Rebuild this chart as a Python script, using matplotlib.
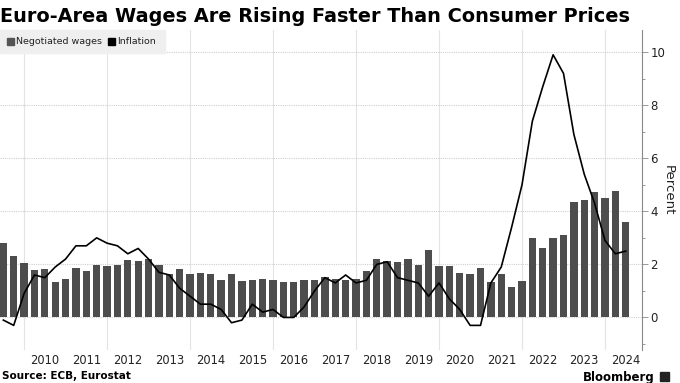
import matplotlib
matplotlib.use("Agg")
import matplotlib.pyplot as plt
import numpy as np

# quarterly data, 2009 Q2 .. 2024 Q2
start_year = 2009.5
wages = [2.79, 2.33, 2.06, 1.80, 1.82, 1.35, 1.46, 1.85, 1.76, 1.96, 1.94,
         1.96, 2.15, 2.13, 2.21, 1.99, 1.65, 1.82, 1.62, 1.66, 1.65, 1.42,
         1.62, 1.36, 1.40, 1.43, 1.42, 1.32, 1.33, 1.42, 1.41, 1.52, 1.43,
         1.42, 1.46, 1.74, 2.19, 2.11, 2.08, 2.20, 1.99, 2.53, 1.95, 1.94,
         1.67, 1.62, 1.86, 1.33, 1.64, 1.14, 1.36, 2.98, 2.62, 3.01, 3.09,
         4.36, 4.42, 4.74, 4.51, 4.76, 3.58]
inflation = [-0.1, -0.3, 0.9, 1.6, 1.5, 1.9, 2.2, 2.7, 2.7, 3.0, 2.8,
             2.7, 2.4, 2.6, 2.2, 1.7, 1.6, 1.1, 0.8, 0.5, 0.5, 0.3,
             -0.2, -0.1, 0.5, 0.2, 0.3, 0.0, 0.0, 0.4, 1.0, 1.5, 1.3,
             1.6, 1.3, 1.4, 2.0, 2.1, 1.5, 1.4, 1.3, 0.8, 1.3, 0.7,
             0.3, -0.3, -0.3, 1.3, 1.9, 3.4, 5.0, 7.4, 8.7, 9.9, 9.2,
             6.9, 5.4, 4.3, 2.9, 2.4, 2.5]
years = list(range(2010, 2025))
yticks = [0, 2, 4, 6, 8, 10]

plt.rcParams['font.family'] = ['DejaVu Sans']

x = start_year + 0.25 * np.arange(len(wages))

fig = plt.figure(figsize=(6.8, 3.83), dpi=100)
ax = fig.add_axes([0.0, 0.086, 0.944, 0.836])

ax.bar(x, wages, width=0.177, color='#4d4d4d', zorder=2)
ax.plot(x, inflation, color='black', linewidth=1.2, zorder=3)

ax.set_xlim(2009.42, 2024.89)
ax.set_ylim(-1.23, 10.84)

# grid
for yr in range(2010, 2025, 2):
    ax.axvline(yr, color='#e3e3e3', linewidth=0.8, zorder=0)
for v in yticks:
    ax.axhline(v, color='#d0d0d0', linewidth=0.8, linestyle=(0, (1, 1)), zorder=1)

ax.yaxis.tick_right()
ax.yaxis.set_label_position('right')
ax.set_yticks(yticks)
ax.set_yticks(range(-1, 11), minor=True)
ax.tick_params(axis='y', which='major', length=4, width=0.6, color='#888888',
               labelsize=8.5, pad=2, labelcolor='#222222')
ax.tick_params(axis='y', which='minor', length=2, width=0.6, color='#888888')
ax.set_ylabel('Percent', rotation=-90, labelpad=7, fontsize=9.5, color='#222222')

ax.set_xticks([yr + 0.5 for yr in years])
ax.set_xticklabels([str(yr) for yr in years])
ax.tick_params(axis='x', length=0, labelsize=8.3, pad=3, labelcolor='#222222')

for s in ['top', 'left', 'bottom']:
    ax.spines[s].set_visible(False)
ax.spines['right'].set_color('#888888')
ax.spines['right'].set_linewidth(0.8)

# legend box
fig.patches.append(plt.Rectangle((0, 1 - 53 / 383), 165 / 680, 23 / 383,
                                 transform=fig.transFigure, color='#efefef', zorder=0))
ly = 1 - 41 / 383
fig.patches.append(plt.Rectangle((7 / 680, ly - 3.5 / 383), 6.5 / 680, 7 / 383,
                                 transform=fig.transFigure, color='#555555'))
fig.text(16 / 680, ly, 'Negotiated wages', fontsize=6.8, va='center', color='#222222')
fig.patches.append(plt.Rectangle((108 / 680, ly - 3.5 / 383), 6.5 / 680, 7 / 383,
                                 transform=fig.transFigure, color='black'))
fig.text(117 / 680, ly, 'Inflation', fontsize=6.8, va='center', color='#222222')

fig.text(0.0, 1 - 17 / 383, 'Euro-Area Wages Are Rising Faster Than Consumer Prices',
         fontsize=13.9, fontweight='bold', va='center', ha='left')
fig.text(2 / 680, 1 - 376 / 383, 'Source: ECB, Eurostat', fontsize=7.5,
         fontweight='bold', va='center', ha='left')
fig.text(655 / 680, 1 - 377 / 383, 'Bloomberg', fontsize=8.5,
         fontweight='bold', va='center', ha='right')
fig.patches.append(plt.Rectangle((660 / 680, 1 - 381 / 383), 9 / 680, 9 / 383,
                                 transform=fig.transFigure, color='#222222'))

fig.savefig('out.png', dpi=100)
